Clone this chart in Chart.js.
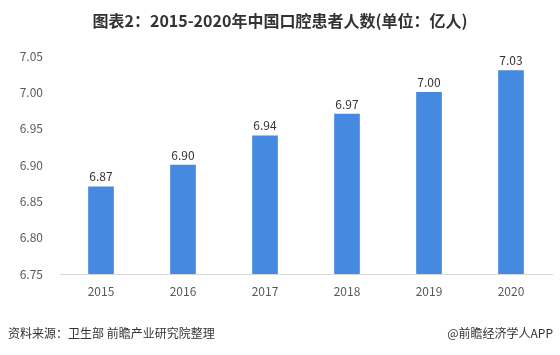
<!DOCTYPE html>
<html>
<head>
<meta charset="utf-8">
<script src="https://cdn.jsdelivr.net/npm/chart.js@4.4.1/dist/chart.umd.min.js"></script>
<style>
  html, body { margin: 0; padding: 0; background: #fff; }
  #wrap { position: relative; width: 560px; height: 355px; overflow: hidden; }
  #title { position: absolute; left: 0; top: 8px; width: 560px; text-align: center;
    font-family: "Noto Sans CJK SC", sans-serif; font-weight: bold; font-size: 16px; color: #333; line-height: 24px; }
  #src { position: absolute; left: 8px; top: 323px; font-family: "Noto Sans CJK SC", sans-serif; font-size: 12px; color: #333; line-height: 20px; }
  #app { position: absolute; right: 7px; top: 323px; font-family: "Noto Sans CJK SC", sans-serif; font-size: 12px; color: #333; line-height: 20px; }
  canvas { position: absolute; left: 0; top: 0; }
</style>
</head>
<body>
<div id="wrap">
  <canvas id="c" width="560" height="355"></canvas>
  <div id="title">图表2：2015-2020年中国口腔患者人数(单位：亿人)</div>
  <div id="src">资料来源：卫生部 前瞻产业研究院整理</div>
  <div id="app">@前瞻经济学人APP</div>
</div>
<script>
const years = ["2015", "2016", "2017", "2018", "2019", "2020"];
const patients = [6.87, 6.90, 6.94, 6.97, 7.00, 7.03];
const yMin = 6.75, yMax = 7.05, yStep = 0.05;

const valueLabels = {
  id: 'valueLabels',
  afterDatasetsDraw(chart) {
    const ctx = chart.ctx;
    const meta = chart.getDatasetMeta(0);
    ctx.save();
    ctx.font = '12px "Noto Sans CJK SC", sans-serif';
    ctx.fillStyle = '#333333';
    ctx.textAlign = 'center';
    ctx.textBaseline = 'bottom';
    meta.data.forEach((bar, i) => {
      ctx.fillText(patients[i].toFixed(2), bar.x, bar.y - 4);
    });
    ctx.restore();
  }
};

new Chart(document.getElementById('c'), {
  type: 'bar',
  data: {
    labels: years,
    datasets: [{
      data: patients,
      backgroundColor: '#4589E0',
      barThickness: 25
    }]
  },
  options: {
    responsive: false,
    animation: false,
    layout: { padding: { top: 56, right: 8, left: 0, bottom: 0 } },
    plugins: { legend: { display: false }, tooltip: { enabled: false }, title: { display: false } },
    scales: {
      x: {
        grid: { display: false, drawTicks: false },
        border: { display: true, color: '#d9d9d9', width: 1 },
        ticks: { color: '#595959', font: { size: 12, family: '"Noto Sans CJK SC", sans-serif' }, padding: 10 },
        afterFit(scale) { scale.height = 81; }
      },
      y: {
        min: yMin, max: yMax,
        grid: { display: false, drawTicks: false },
        border: { display: false },
        ticks: {
          stepSize: yStep,
          color: '#595959',
          font: { size: 12, family: '"Noto Sans CJK SC", sans-serif' },
          padding: 17,
          callback: v => v.toFixed(2)
        },
        afterFit(scale) { scale.width = 60; }
      }
    }
  },
  plugins: [valueLabels]
});
</script>
</body>
</html>
